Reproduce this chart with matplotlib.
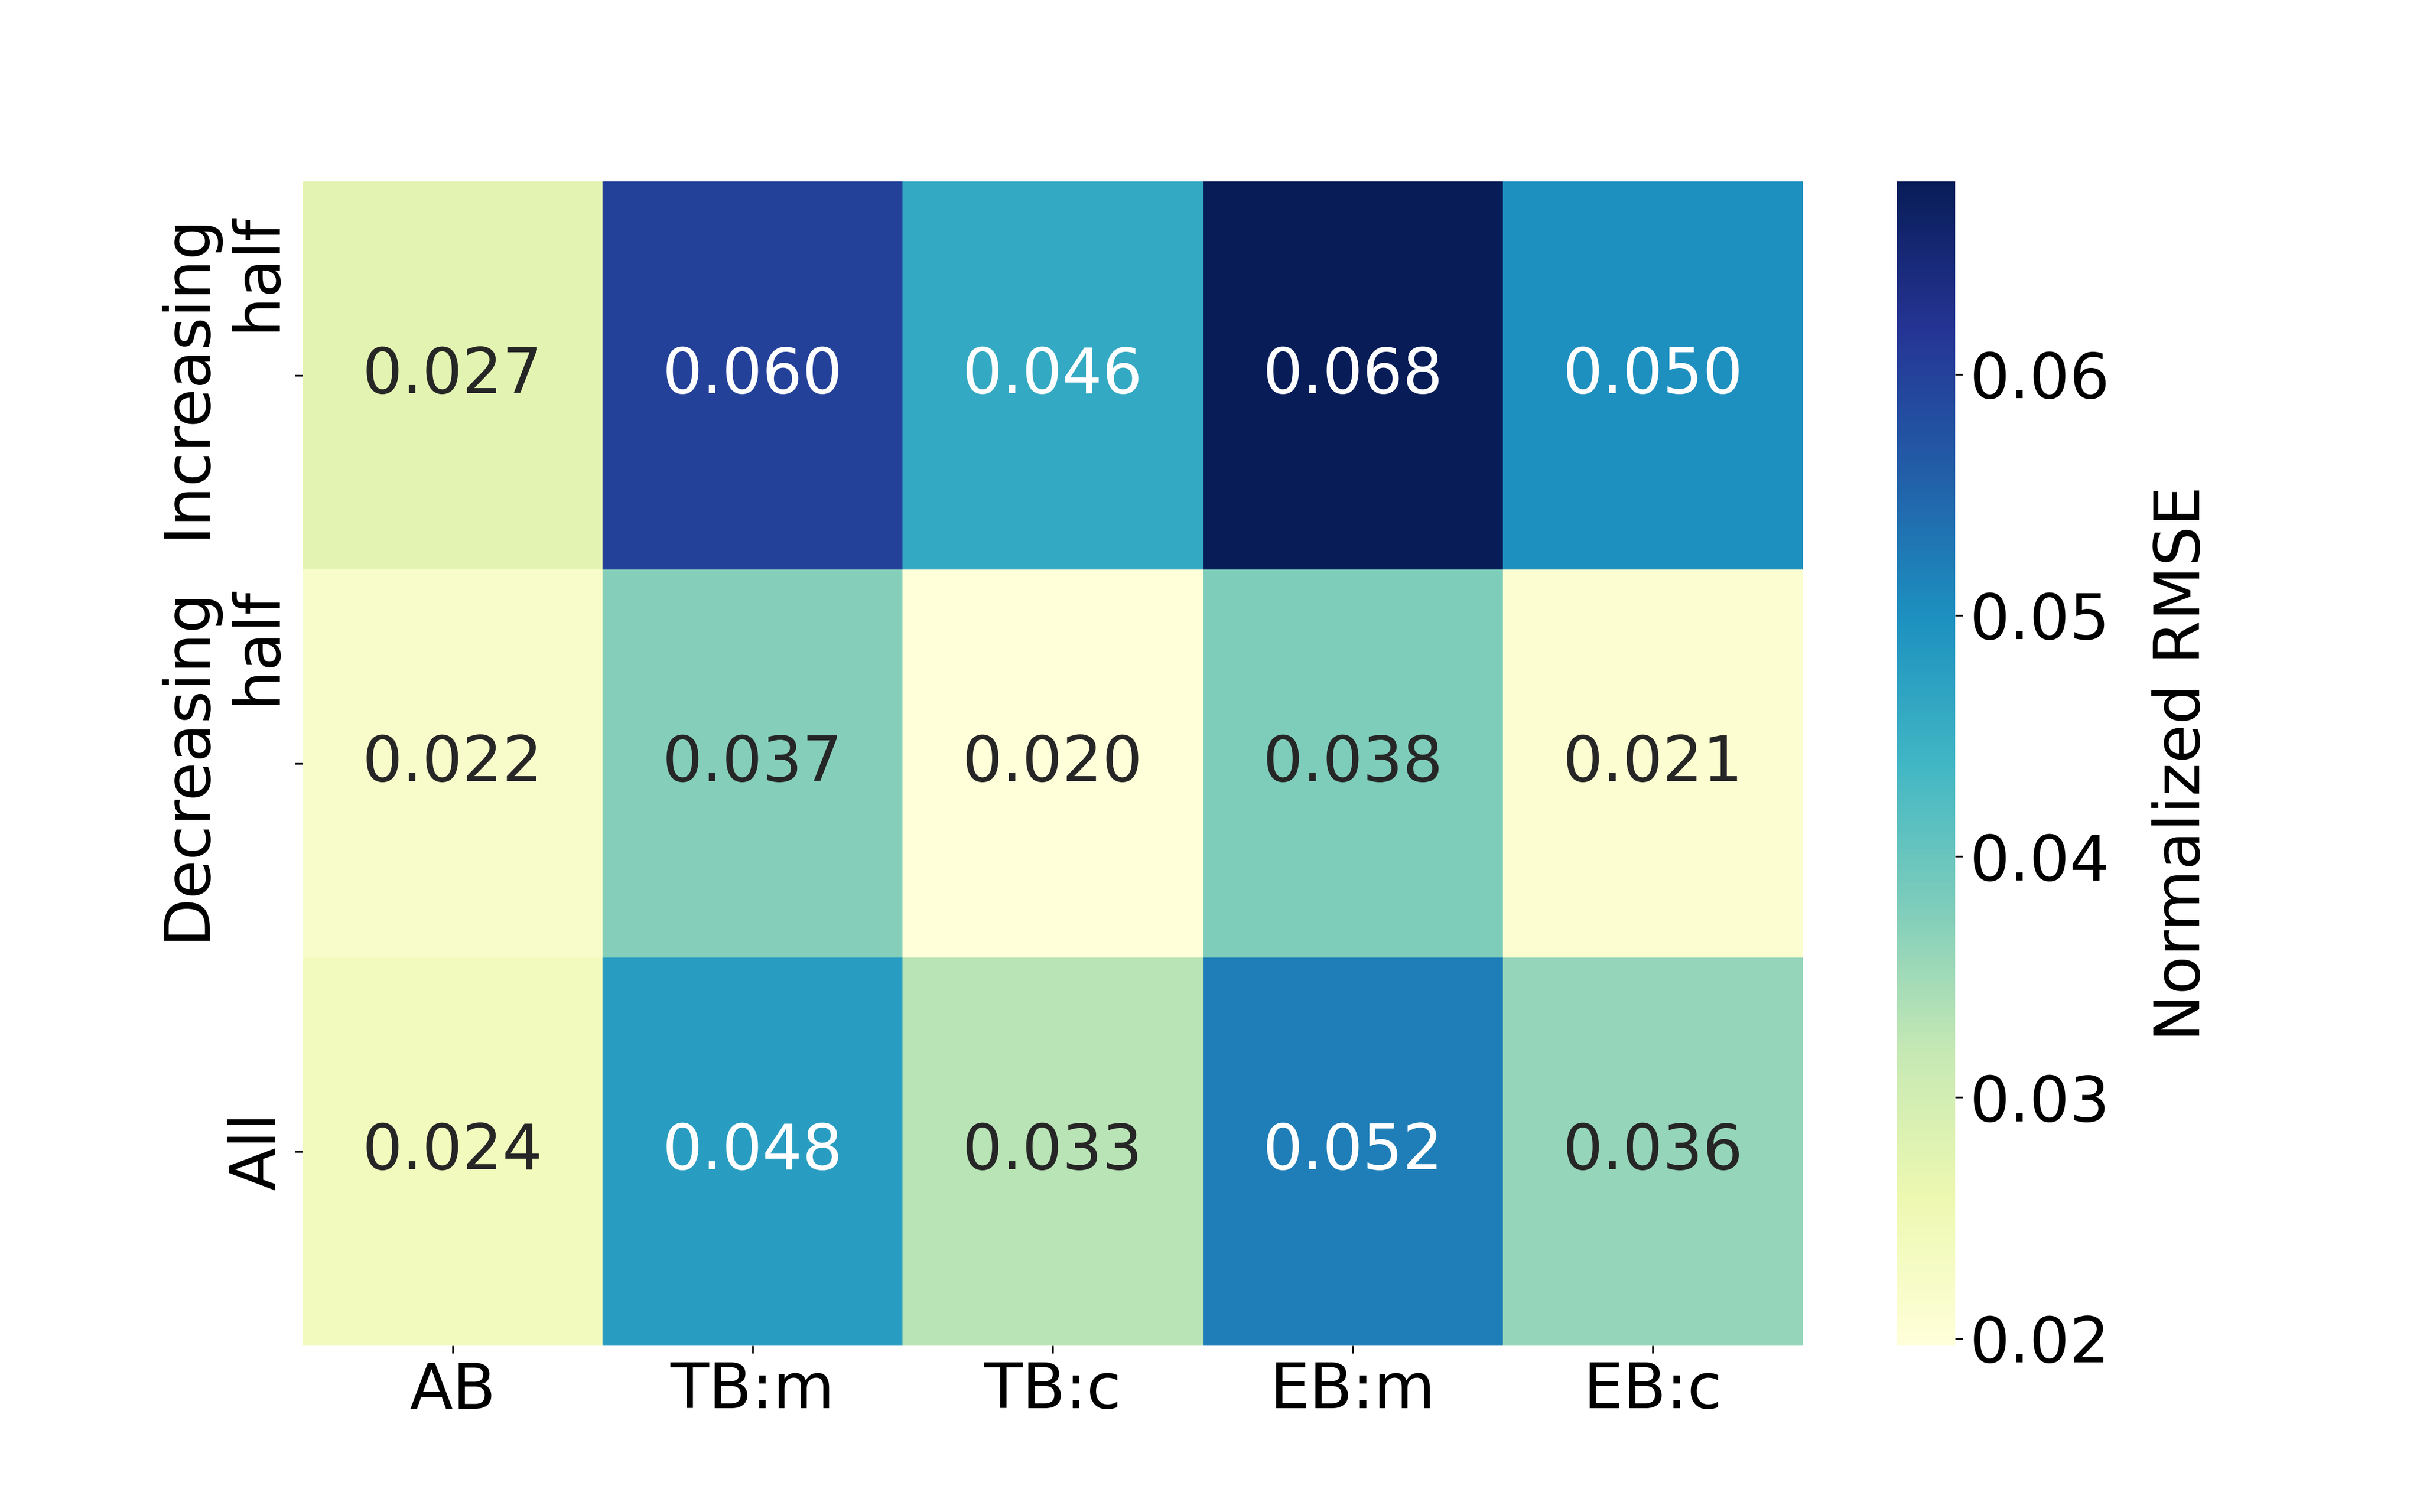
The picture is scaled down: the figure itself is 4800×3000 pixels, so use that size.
import numpy as np
import pandas as pd
import seaborn as sns
import matplotlib
matplotlib.use('Agg')
import matplotlib.pyplot as plt

# Values
methods = ['AB', 'TB:m', 'TB:c', 'EB:m', 'EB:c']
rows = ['Increasing\nhalf', 'Decreasing\nhalf', 'All']
increasing = [0.0274, 0.060, 0.046, 0.068, 0.050]
decreasing = [0.022, 0.0374, 0.0197, 0.038, 0.021]
all_vals = [0.024, 0.048, 0.033, 0.052, 0.036]

df = pd.DataFrame([increasing, decreasing, all_vals], index=rows, columns=methods)

plt.rcParams['font.size'] = 30
fig = plt.figure(figsize=(16, 10))
ax = sns.heatmap(df, annot=True, fmt='.3f', cmap='YlGnBu',
                 annot_kws={'fontsize': 30},
                 cbar_kws={'label': 'Normalized RMSE'})
ax.tick_params(axis='both', labelsize=30)
plt.yticks(rotation=90, va='center')
plt.xticks(rotation=0)
cbar = ax.collections[0].colorbar
cbar.ax.tick_params(labelsize=30)
cbar.set_label('Normalized RMSE', fontsize=30, labelpad=20)
plt.savefig('out.png', dpi=300)
